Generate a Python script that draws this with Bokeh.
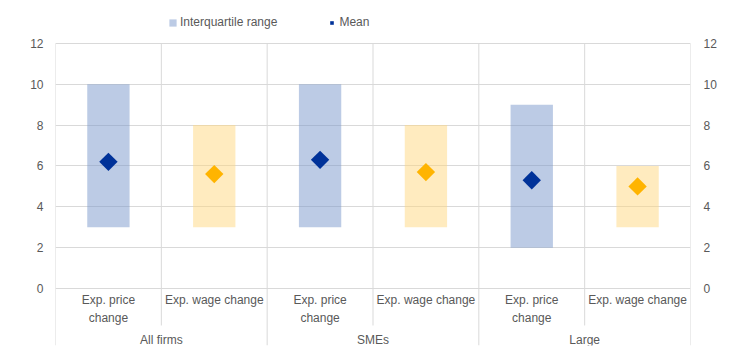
import math
from bokeh.plotting import figure
from bokeh.models import Range1d, LinearAxis, FixedTicker, Legend, LegendItem, ColumnDataSource
from bokeh.core.properties import value
from bokeh.embed import file_html
from bokeh.resources import INLINE

# ---- data ----
groups = ["All firms", "SMEs", "Large"]
measures = ["Exp. price\nchange", "Exp. wage change"]
q1 = [3, 3, 3, 3, 2, 3]
q3 = [10, 8, 10, 8, 9, 6]
means = [6.2, 5.6, 6.3, 5.7, 5.3, 5.0]
y_ticks = [0, 2, 4, 6, 8, 10, 12]

FONT = "Liberation Sans"
TXT = "#595959"
GRID = "#d9d9d9"
BAR_COL = ["#7a97cc", "#ffd780"]
MEAN_COL = ["#003299", "#ffb400"]

n = len(groups) * len(measures)
xs = [i + 0.5 for i in range(n)]
bar_colors = [BAR_COL[i % 2] for i in range(n)]
mean_colors = [MEAN_COL[i % 2] for i in range(n)]
sub_labels = [measures[i % 2] for i in range(n)]

Y_MIN = -2.79
Y_MAX = 13.61
p = figure(frame_width=635, frame_height=335, x_range=Range1d(0, n), y_range=Range1d(Y_MIN, Y_MAX),
           output_backend="svg", toolbar_location=None,
           min_border_left=55, min_border_right=52, min_border_top=10, min_border_bottom=2)
p.outline_line_color = None
p.xaxis.visible = False
p.xgrid.visible = False
p.yaxis.visible = False
p.ygrid.ticker = FixedTicker(ticks=y_ticks)
p.ygrid.grid_line_color = GRID

for side, standoff in (("left", 12), ("right", 13)):
    ax = LinearAxis(ticker=FixedTicker(ticks=y_ticks))
    ax.axis_line_color = None
    ax.major_tick_line_color = None
    ax.minor_tick_line_color = None
    ax.major_tick_out = 0
    ax.major_label_standoff = standoff
    ax.major_label_text_font = FONT
    ax.major_label_text_font_size = "12px"
    ax.major_label_text_color = TXT
    p.add_layout(ax, side)

# vertical separators
sep_x = list(range(n + 1))
sep_bottom = [Y_MIN if i % 2 == 0 else -1.81 for i in sep_x]
p.segment(x0=sep_x, y0=[12] * len(sep_x), x1=sep_x, y1=sep_bottom, line_color=GRID, line_width=1)

src = ColumnDataSource(dict(x=xs, q1=q1, q3=q3, mean=means, bc=bar_colors, mc=mean_colors))
bars = p.vbar(x="x", bottom="q1", top="q3", width=0.4, source=src,
              fill_color="bc", fill_alpha=0.5, line_color=None)
pts = p.scatter(x="x", y="mean", source=src, marker="square", angle=math.pi / 4, size=13,
                fill_color="mc", line_color=None)

# category labels
p.text(x=xs, y=[-0.2] * n, text=sub_labels, text_align="center", text_baseline="top",
       text_font=value(FONT), text_font_size="12px", text_color=TXT, text_line_height=1.33)
gx = [1 + 2 * i for i in range(len(groups))]
p.text(x=gx, y=[-2.5] * len(groups), text=groups, text_align="center", text_baseline="middle",
       text_font=value(FONT), text_font_size="12px", text_color=TXT)

legend = Legend(items=[LegendItem(label="Interquartile range", renderers=[bars], index=0),
                       LegendItem(label="Mean", renderers=[pts], index=0)],
                orientation="horizontal", location=(113, 316),
                glyph_width=9, glyph_height=9, label_standoff=3, spacing=50,
                padding=0, margin=0, border_line_color=None, background_fill_alpha=0,
                label_text_font=FONT, label_text_font_size="12px", label_text_color=TXT,
                label_height=12)
p.add_layout(legend, "center")

open("out.html", "w").write(file_html(p, INLINE))
